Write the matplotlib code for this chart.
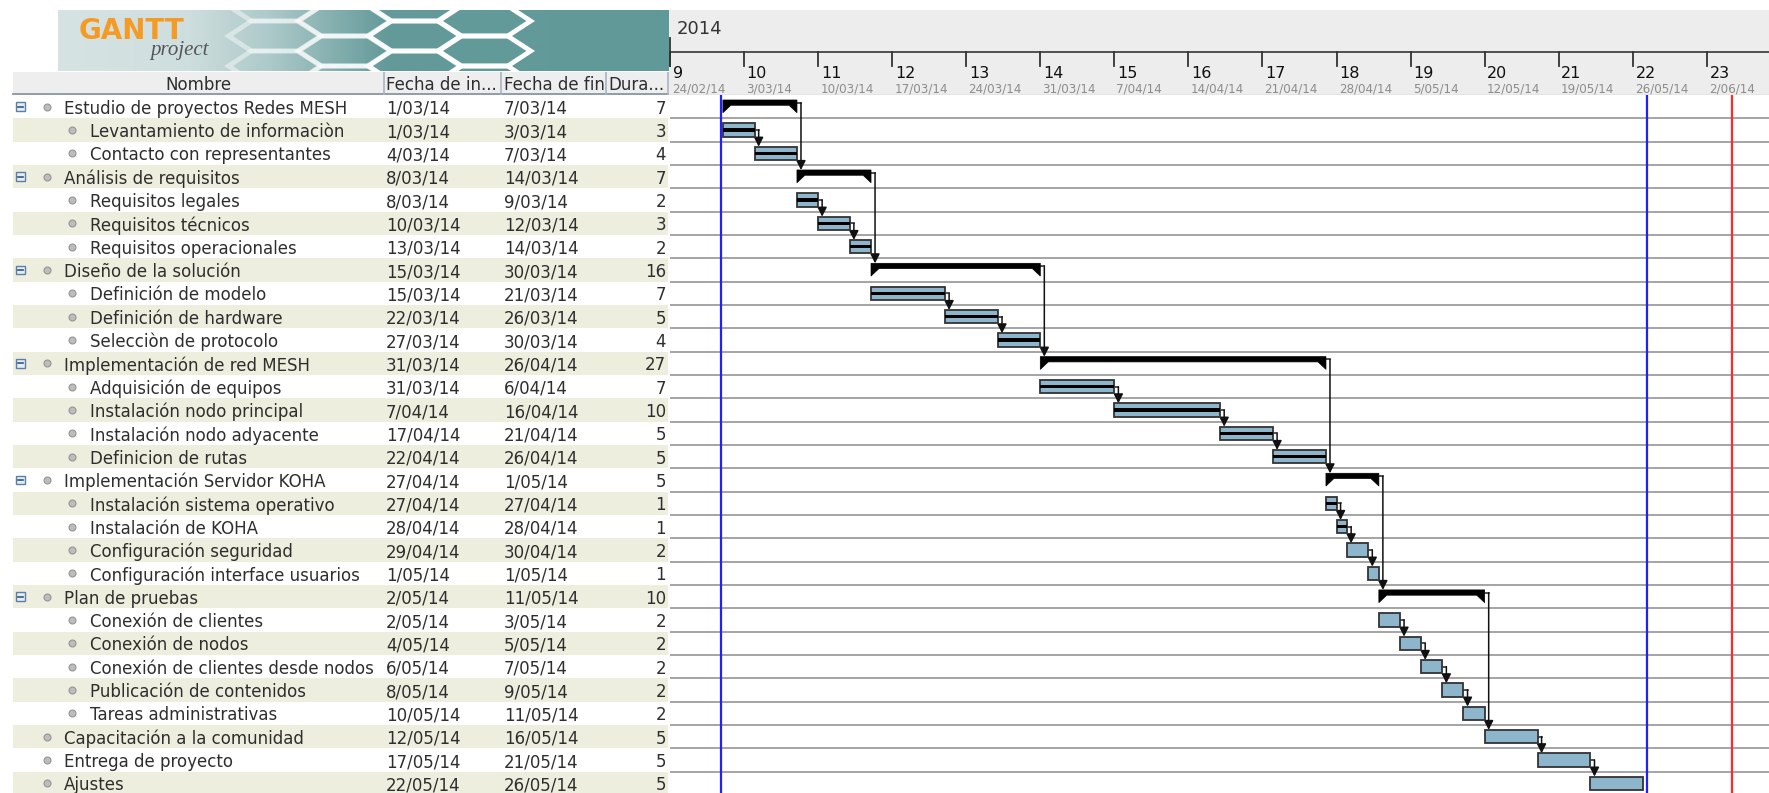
import numpy as np
import matplotlib.pyplot as plt
import matplotlib.dates as mdates
from matplotlib.patches import Rectangle, Polygon
from datetime import datetime

plt.rcParams['font.family'] = 'DejaVu Sans'

# ---- task table ----
names = [
    "Estudio de proyectos Redes MESH", "Levantamiento de informaciòn", "Contacto con representantes",
    "Análisis de requisitos", "Requisitos legales", "Requisitos técnicos", "Requisitos operacionales",
    "Diseño de la solución", "Definición de modelo", "Definición de hardware", "Selecciòn de protocolo",
    "Implementación de red MESH", "Adquisición de equipos", "Instalación nodo principal",
    "Instalación nodo adyacente", "Definicion de rutas",
    "Implementación Servidor KOHA", "Instalación sistema operativo", "Instalación de KOHA",
    "Configuración seguridad", "Configuración interface usuarios",
    "Plan de pruebas", "Conexión de clientes", "Conexión de nodos", "Conexión de clientes desde nodos",
    "Publicación de contenidos", "Tareas administrativas",
    "Capacitación a la comunidad", "Entrega de proyecto", "Ajustes",
]
level = [0, 1, 1, 0, 1, 1, 1, 0, 1, 1, 1, 0, 1, 1, 1, 1, 0, 1, 1, 1, 1, 0, 1, 1, 1, 1, 1, 0, 0, 0]
is_summary = [True, False, False, True, False, False, False, True, False, False, False,
              True, False, False, False, False, True, False, False, False, False,
              True, False, False, False, False, False, False, False, False]
start_dates = ["1/03/14", "1/03/14", "4/03/14", "8/03/14", "8/03/14", "10/03/14", "13/03/14",
               "15/03/14", "15/03/14", "22/03/14", "27/03/14", "31/03/14", "31/03/14", "7/04/14",
               "17/04/14", "22/04/14", "27/04/14", "27/04/14", "28/04/14", "29/04/14", "1/05/14",
               "2/05/14", "2/05/14", "4/05/14", "6/05/14", "8/05/14", "10/05/14",
               "12/05/14", "17/05/14", "22/05/14"]
end_dates = ["7/03/14", "3/03/14", "7/03/14", "14/03/14", "9/03/14", "12/03/14", "14/03/14",
             "30/03/14", "21/03/14", "26/03/14", "30/03/14", "26/04/14", "6/04/14", "16/04/14",
             "21/04/14", "26/04/14", "1/05/14", "27/04/14", "28/04/14", "30/04/14", "1/05/14",
             "11/05/14", "3/05/14", "5/05/14", "7/05/14", "9/05/14", "11/05/14",
             "16/05/14", "21/05/14", "26/05/14"]
durations = [7, 3, 4, 7, 2, 3, 2, 16, 7, 5, 4, 27, 7, 10, 5, 5, 5, 1, 1, 2, 1, 10, 2, 2, 2, 2, 2, 5, 5, 5]
completed = [False, True, True, False, True, True, True, False, True, True, True, False, True, True,
             True, True, False, True, True, False, False, False, False, False, False, False, False,
             False, False, False]
links = [(0, 3), (1, 2), (3, 7), (4, 5), (5, 6), (7, 11), (8, 9), (9, 10), (11, 16), (12, 13),
         (13, 14), (14, 15), (16, 21), (17, 18), (18, 19), (19, 20), (21, 27), (22, 23), (23, 24),
         (24, 25), (25, 26), (27, 28), (28, 29)]

week_numbers = list(range(9, 24))
week_labels = ["24/02/14", "3/03/14", "10/03/14", "17/03/14", "24/03/14", "31/03/14", "7/04/14",
               "14/04/14", "21/04/14", "28/04/14", "5/05/14", "12/05/14", "19/05/14", "26/05/14",
               "2/06/14"]
year_label = "2014"
project_start = "1/03/14"
project_end = "27/05/14"
today = datetime(2014, 6, 4, 10)


def d(s):
    return mdates.date2num(datetime.strptime(s, "%d/%m/%y"))


starts = np.array([d(s) for s in start_dates])
ends = np.array([d(s) for s in end_dates]) + 1  # end date is inclusive
week_x = [d(s) for s in week_labels]

# ---- layout (pixels) ----
W, H = 1769, 793
chart_left = 670
body_top = 95
row_px = 23.33
px_per_day = 10.58
n_vis = (H - body_top) / row_px

fig = plt.figure(figsize=(W / 100, H / 100), dpi=100)
fig.patch.set_facecolor('white')

# ---- gantt body ----
ax = fig.add_axes([chart_left / W, 0, (W - chart_left) / W, (H - body_top) / H])
x0 = week_x[0]
ax.set_xlim(x0, x0 + (W - chart_left) / px_per_day)
ax.set_ylim(n_vis, 0)
ax.set_axis_off()

for i in range(len(names)):
    ax.axhline(i + 1, color='#a4a4a4', lw=1.4, zorder=1)

bar_top, bar_h = 0.214, 0.572
for i in range(len(names)):
    s, e = starts[i], ends[i]
    if is_summary[i]:
        pts = [(s, i + 0.214), (e, i + 0.214), (e, i + 0.76), (e - 0.75, i + 0.44),
               (s + 0.75, i + 0.44), (s, i + 0.76)]
        ax.add_patch(Polygon(pts, closed=True, fc='black', ec='black', lw=0.5, zorder=4))
    else:
        ax.add_patch(Rectangle((s, i + bar_top), e - s, bar_h, fc='#8db5cc', ec='#333333',
                               lw=1.3, zorder=4))
        if completed[i]:
            ax.add_patch(Rectangle((s, i + 0.43), e - s, 0.14, fc='black', ec='none', zorder=5))

for a, b in links:
    xe = ends[a]
    y_from = a + (0.33 if is_summary[a] else 0.5)
    xa = xe + 0.38
    ax.plot([xe, xa], [y_from, y_from], color='#222222', lw=1.1, zorder=3)
    ax.annotate('', xy=(xa, b + bar_top), xytext=(xa, y_from),
                arrowprops=dict(arrowstyle='-|>,head_length=0.55,head_width=0.28', color='#111111',
                                lw=1.1, shrinkA=0, shrinkB=0), zorder=3)

ax.axvline(d(project_start) - 0.2, color='#1f1fff', lw=1.6, zorder=6)
ax.axvline(d(project_end) + 0.3, color='#1f1fff', lw=1.6, zorder=6)
ax.axvline(mdates.date2num(today), color='#ff2a2a', lw=1.6, zorder=6)

# ---- timeline header ----
axh = fig.add_axes([(chart_left - 1) / W, (H - body_top) / H, (W - chart_left + 1) / W, 85 / H])
axh.set_xlim(x0 - 1 / px_per_day, x0 + (W - chart_left) / px_per_day)
axh.set_ylim(95, 10)
axh.set_facecolor('#ededed')
axh.set_xticks([])
axh.set_yticks([])
for sp in axh.spines.values():
    sp.set_visible(False)
axh.text(x0 + 0.6, 29, year_label, fontsize=13, color='#333333', va='center')
axh.axhline(52, color='#444444', lw=1.3)
axh.plot([x0, x0], [38, 66], color='#333333', lw=1.3)
for wx, wn, wl in zip(week_x, week_numbers, week_labels):
    axh.plot([wx, wx], [52, 66], color='#333333', lw=1.3)
    axh.text(wx + 0.25, 74, str(wn), fontsize=11.5, color='#111111', va='center')
    axh.text(wx + 0.2, 89, wl, fontsize=8.6, color='#8c8c8c', va='center')
axh.axhline(94.5, color='#c4c4c4', lw=1)

# ---- task table ----
axt = fig.add_axes([0, 0, chart_left / W, (H - body_top) / H])
axt.set_xlim(0, chart_left)
axt.set_ylim(n_vis, 0)
axt.set_axis_off()
txt = dict(fontsize=12, color='#2e2e2e', va='center')
for i in range(len(names)):
    if i % 2 == 1:
        axt.add_patch(Rectangle((13, i), 655, 1, fc='#eeeedf', ec='none', zorder=0))
    yc = i + 0.5
    yt = yc + 0.09
    if is_summary[i]:
        axt.add_patch(Rectangle((15.5, yc - 0.19), 9, 0.38, fc='#e6edf5', ec='#5b7fa8', lw=1, zorder=2))
        axt.plot([17.5, 22.5], [yc, yc], color='#2f5786', lw=1.2, zorder=3)
    bx = 47 if level[i] == 0 else 72
    tx = 64 if level[i] == 0 else 90
    axt.plot(bx, yc, 'o', ms=5, mfc='#bdbdbd', mec='#959595', mew=0.8, zorder=3)
    axt.text(tx, yt, names[i], **txt)
    axt.text(386, yt, start_dates[i], **txt)
    axt.text(504, yt, end_dates[i], **txt)
    axt.text(666, yt, str(durations[i]), ha='right', **txt)

# ---- table header ----
axth = fig.add_axes([0, (H - body_top) / H, chart_left / W, 23 / H])
axth.set_xlim(0, chart_left)
axth.set_ylim(1, 0)
axth.set_axis_off()
axth.add_patch(Rectangle((13, 0), 655, 1, fc='#eeeeee', ec='none'))
axth.plot([13, 668], [0.96, 0.96], color='#8a96a6', lw=1.3)
for sx in [384, 501, 606, 668]:
    axth.plot([sx, sx], [0, 1], color='#a9b4c2', lw=1.2)
axth.text(198, 0.56, "Nombre", ha='center', **txt)
axth.text(386, 0.56, "Fecha de in...", **txt)
axth.text(504, 0.56, "Fecha de fin", **txt)
axth.text(608, 0.56, "Dura...", **txt)

# ---- logo ----
axl = fig.add_axes([58.3 / W, (H - 71) / H, 610.5 / W, 61 / H])
axl.set_xlim(0, 610)
axl.set_ylim(61, 0)
axl.set_axis_off()
gx = np.arange(610)
stops = [0, 130, 210, 330, 610]
c0 = np.array([[0.84, 0.89, 0.89], [0.81, 0.87, 0.87], [0.68, 0.79, 0.79], [0.39, 0.60, 0.60],
               [0.38, 0.60, 0.60]])
grad = np.stack([np.interp(gx, stops, c0[:, k]) for k in range(3)], axis=-1)
axl.imshow(grad[None, :, :], extent=[0, 610, 61, 0], aspect='auto', zorder=0)
hw, hh = 92, 30
for k in range(4):
    cx = 216 + k * 70
    for j in range(-1, 3):
        cy = (k % 2) * 15 - 4 + j * 30
        hexpts = [(cx - hw / 2, cy), (cx - hw / 4, cy - hh / 2), (cx + hw / 4, cy - hh / 2),
                  (cx + hw / 2, cy), (cx + hw / 4, cy + hh / 2), (cx - hw / 4, cy + hh / 2)]
        axl.add_patch(Polygon(hexpts, closed=True, fc='none', ec='white', lw=3.4,
                              alpha=min(1.0, 0.45 + 0.22 * k), zorder=1))
axl.text(20, 21, "GANTT", fontsize=20, fontweight='bold', color='#f59a23', va='center', zorder=3)
axl.text(92, 41, "project", fontsize=15, style='italic', family='Liberation Serif',
         color='#555555', va='center', zorder=3)

fig.savefig('out.png', dpi=100)
